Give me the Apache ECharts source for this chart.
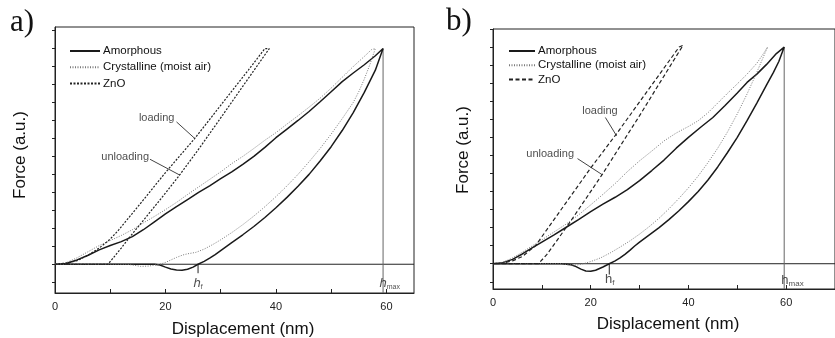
<!DOCTYPE html>
<html>
<head>
<meta charset="utf-8">
<script src="https://cdn.jsdelivr.net/npm/echarts@6/dist/echarts.min.js"></script>
<style>
  html, body { margin: 0; padding: 0; background: #fff; }
  #main { width: 835px; height: 338px; }
</style>
</head>
<body>
<div id="main"></div>
<script>
// ---- panel a) ----
const amorphLoadA = [[0,0],[2,0.02],[4,0.12],[6,0.25],[8,0.4],[10,0.52],[12,0.63],[14,0.77],[16,0.96],[18,1.18],[20,1.4],[22,1.6],[24,1.8],[26,2.0],[28,2.18],[30,2.38],[32,2.57],[34,2.78],[36,3.0],[38,3.25],[40,3.52],[42,3.76],[44,4.0],[46,4.25],[48,4.52],[50,4.8],[52,5.08],[54,5.32],[56,5.55],[58,5.8],[59.4,6.0]];
const amorphUnloadA = [[59.4,6.0],[58,5.4],[56,4.78],[54,4.22],[52,3.72],[50,3.27],[48,2.87],[46,2.5],[44,2.17],[42,1.86],[40,1.57],[38,1.3],[36,1.05],[34,0.82],[32,0.6],[31,0.49],[30,0.38],[29,0.27],[28,0.17],[27,0.08],[25.9,0],[25,-0.08],[24,-0.14],[23,-0.17],[22,-0.16],[21,-0.13],[20,-0.08],[19,-0.02],[18,0],[0,0]];
const crystLoadA = [[0,0],[2,0.04],[4,0.18],[6,0.35],[8,0.52],[10,0.66],[12,0.8],[14,0.96],[16,1.15],[18,1.33],[20,1.52],[22,1.72],[24,1.94],[26,2.15],[28,2.36],[30,2.57],[32,2.8],[34,3.0],[36,3.22],[38,3.45],[40,3.66],[42,3.9],[44,4.13],[46,4.37],[48,4.62],[50,4.9],[52,5.2],[54,5.5],[56,5.78],[57.3,5.97],[58,6.0]];
const crystUnloadA = [[58,6.0],[57,5.55],[56,5.15],[55,4.8],[54,4.5],[52,4.05],[50,3.62],[48,3.22],[46,2.85],[44,2.5],[42,2.18],[40,1.88],[38,1.6],[36,1.34],[34,1.1],[32,0.88],[30,0.68],[28.7,0.56],[27,0.42],[25.5,0.33],[24,0.29],[23.2,0.26],[22,0.19],[21,0.12],[20,0.05],[19,0],[17,-0.05],[15.5,-0.06],[14,-0.02],[13,0],[0,0]];
const znoLoadA = [[0,0],[2,0.03],[4,0.1],[6,0.25],[8,0.45],[10,0.7],[11.5,0.95],[15,1.6],[20,2.55],[25.3,3.5],[30,4.42],[35,5.4],[38,6.0]];
const znoUnloadA = [[38.8,6.0],[34,4.95],[30,4.07],[26,3.2],[22.6,2.49],[20,1.98],[16,1.22],[13.6,0.77],[12,0.45],[9.6,0],[0,0]];
const hmaxA = 59.4;
const hfA = 25.9;

// ---- panel b) ----
const amorphLoadB = [[0,0],[2,0.03],[4,0.12],[6,0.27],[8,0.44],[10,0.6],[12.5,0.8],[15,1.01],[17.5,1.22],[20,1.44],[22.5,1.65],[25,1.84],[27.5,2.05],[30,2.3],[32.5,2.58],[35,2.87],[37.5,3.2],[40,3.5],[42.5,3.78],[45,4.05],[47.5,4.38],[50,4.73],[52,5.02],[54,5.25],[56,5.52],[58,5.82],[59.6,6.0]];
const amorphUnloadB = [[59.6,6.0],[58.5,5.6],[57.4,5.3],[56,4.95],[54,4.45],[52,3.96],[50,3.5],[48,3.08],[46,2.68],[44,2.32],[42,2.0],[40,1.72],[38,1.46],[36,1.22],[34,1.0],[32,0.8],[30,0.6],[29,0.49],[28,0.37],[27,0.26],[26,0.16],[25,0.08],[23.8,0],[22.5,-0.09],[21,-0.18],[20,-0.21],[19,-0.2],[18,-0.15],[17,-0.08],[16,-0.03],[14,0],[0,0]];
const crystLoadB = [[0,0],[2,0.04],[4,0.16],[6,0.32],[8,0.49],[10,0.66],[12.5,0.88],[15,1.1],[17.5,1.35],[20,1.63],[22.5,1.92],[25,2.22],[27.5,2.55],[30,2.85],[32.5,3.12],[35,3.4],[37.5,3.62],[40,3.8],[42,3.96],[44,4.18],[46,4.45],[48,4.72],[50,4.98],[52,5.25],[54,5.55],[55.5,5.85],[56.2,6.0]];
const crystUnloadB = [[56.2,6.0],[55,5.62],[54,5.3],[53,5.0],[52,4.7],[50,4.15],[48,3.65],[46,3.2],[44,2.8],[42,2.43],[40,2.1],[38,1.8],[36,1.52],[34,1.26],[32,1.03],[30,0.82],[28,0.63],[26,0.46],[24,0.3],[22,0.16],[20,0.06],[18.5,0],[17,-0.04],[15.5,-0.03],[14,0],[0,0]];
const znoLoadB = [[0,0],[2,0.02],[4,0.08],[6,0.2],[8.7,0.5],[11,0.94],[15,1.7],[20,2.65],[25.4,3.62],[30,4.48],[35,5.42],[38.1,6.0]];
const znoUnloadB = [[38.9,6.05],[34,4.98],[30,4.1],[26,3.25],[22.4,2.48],[19,1.8],[16,1.2],[13.7,0.76],[11,0.25],[9.3,0],[0,0]];
const hmaxB = 59.6;
const hfB = 23.8;

// axis ticks / labels
const xTickLabels = [0, 20, 40, 60];
const xTicks = [0, 10, 20, 30, 40, 50, 60, 70];
const yTicks = [-0.5, 0, 0.5, 1, 1.5, 2, 2.5, 3, 3.5, 4, 4.5, 5, 5.5, 6, 6.5];
const seriesNames = ['Amorphous', 'Crystalline (moist air)', 'ZnO'];

const FONT = '"Liberation Sans", Arial, sans-serif';
const chart = echarts.init(document.getElementById('main'));

const styles = {
  Amorphous: { color: '#1a1a1a', width: 1.5, type: 'solid' },
  'Crystalline (moist air)': { color: '#7a7a7a', width: 1, type: [1, 1.5] },
  ZnO: { color: '#222', width: 1.2, type: [3, 2] }
};

function curve(name, data, idx, dash) {
  const st = Object.assign({}, styles[name]);
  if (dash) st.type = dash;
  return {
    name: name, type: 'line', xAxisIndex: idx, yAxisIndex: idx,
    data: data, symbol: 'none', smooth: false, silent: true,
    lineStyle: st, itemStyle: { color: st.color }, z: 3
  };
}

function thin(data, idx, color) {
  return {
    type: 'line', xAxisIndex: idx, yAxisIndex: idx, data: data,
    symbol: 'none', silent: true, z: 2,
    lineStyle: { color: color || '#222', width: 1 }
  };
}

function note(text, pos, idx, rich) {
  return {
    type: 'scatter', xAxisIndex: idx, yAxisIndex: idx, data: [pos],
    symbolSize: 0, silent: true, z: 4,
    label: {
      show: true, position: 'inside', formatter: text,
      color: '#222', fontSize: 11, fontFamily: FONT, rich: rich
    }
  };
}

const richA = {
  h: { fontSize: 13, fontStyle: 'italic', fontFamily: FONT, color: '#222', lineHeight: 15 },
  s: { fontSize: 7, fontFamily: FONT, color: '#222', verticalAlign: 'bottom', lineHeight: 8 }
};
const richB = {
  h: { fontSize: 13, fontFamily: FONT, color: '#222', lineHeight: 15 },
  s: { fontSize: 8, fontFamily: FONT, color: '#222', verticalAlign: 'bottom', lineHeight: 9 }
};

function xAxis(idx, max) {
  return {
    gridIndex: idx, type: 'value', min: 0, max: max,
    axisLine: { onZero: false, lineStyle: { color: '#222', width: 1 } },
    axisTick: { inside: true, length: 4, customValues: xTicks, lineStyle: { color: '#222' } },
    axisLabel: { customValues: xTickLabels, fontSize: 11, color: '#222', fontFamily: FONT, margin: 8 },
    splitLine: { show: false }
  };
}
function yAxis(idx, min, max) {
  return {
    gridIndex: idx, type: 'value', min: min, max: max,
    axisLine: { show: true, onZero: false, lineStyle: { color: '#222', width: 1 } },
    axisTick: { show: true, inside: false, length: 3, customValues: yTicks, lineStyle: { color: '#222' } },
    axisLabel: { show: false },
    splitLine: { show: false }
  };
}

function legend(left, itemWidth, gap, znoDash) {
  return {
    left: left, top: 40, orient: 'vertical', itemWidth: itemWidth, itemHeight: 12,
    itemGap: gap, selectedMode: false,
    itemStyle: { opacity: 0 },
    textStyle: { fontSize: 11.5, color: '#111', fontFamily: FONT, padding: [0, 0, 0, -2] },
    data: [
      { name: seriesNames[0] },
      { name: seriesNames[1] },
      { name: seriesNames[2], lineStyle: { type: znoDash } }
    ]
  };
}

const option = {
  animation: false,
  backgroundColor: '#fff',
  grid: [
    { left: 55, top: 27, width: 359, height: 266, show: true, borderColor: '#222', borderWidth: 1 },
    { left: 493, top: 29, width: 350, height: 260, show: true, borderColor: '#222', borderWidth: 1 }
  ],
  xAxis: [xAxis(0, 65), xAxis(1, 70)],
  yAxis: [yAxis(0, -0.8, 6.6), yAxis(1, -0.7, 6.5)],
  legend: [legend(64, 30, 4.3, [2, 1.5]), legend(503, 26, 2.3, [4, 2.5])],
  series: [
    thin([[0, 0], [65, 0]], 0),
    thin([[hmaxA, 6], [hmaxA, -0.8]], 0, '#666'),
    thin([[hfA, 0], [hfA, -0.25]], 0),
    curve('Amorphous', amorphLoadA.concat(amorphUnloadA), 0),
    curve('Crystalline (moist air)', crystLoadA.concat(crystUnloadA), 0),
    curve('ZnO', znoLoadA.concat(znoUnloadA), 0, [2, 1.5]),
    thin([[22.0, 3.96], [25.3, 3.5]], 0, '#444'),
    thin([[17.2, 2.92], [22.6, 2.48]], 0, '#444'),
    note('loading', [18.4, 4.06], 0),
    note('unloading', [12.7, 2.99], 0),
    note('{h|h}{s|f}', [25.9, -0.53], 0, richA),
    note('{h|h}{s|max}', [60.6, -0.53], 0, richA),

    thin([[0, 0], [70, 0]], 1),
    thin([[hmaxB, 6], [hmaxB, -0.7]], 1, '#666'),
    thin([[hfB, 0], [hfB, -0.3]], 1),
    curve('Amorphous', amorphLoadB.concat(amorphUnloadB), 1),
    curve('Crystalline (moist air)', crystLoadB.concat(crystUnloadB), 1),
    curve('ZnO', znoLoadB.concat(znoUnloadB), 1, [4, 2.5]),
    thin([[23.0, 4.05], [25.3, 3.54]], 1, '#444'),
    thin([[17.3, 2.91], [22.3, 2.47]], 1, '#444'),
    note('loading', [21.9, 4.23], 1),
    note('unloading', [11.7, 3.03], 1),
    note('{h|h}{s|f}', [23.9, -0.43], 1, richB),
    note('{h|h}{s|max}', [61.3, -0.45], 1, richB)
  ],
  graphic: [
    { type: 'text', x: 22, y: 23, style: { text: 'a)', font: '31px "Liberation Serif", "Times New Roman", serif', fill: '#111', align: 'center', verticalAlign: 'middle' } },
    { type: 'text', x: 459, y: 22, style: { text: 'b)', font: '31px "Liberation Serif", "Times New Roman", serif', fill: '#111', align: 'center', verticalAlign: 'middle' } },
    { type: 'text', x: 20, y: 155, rotation: Math.PI / 2, style: { text: 'Force (a.u.)', font: '17px ' + FONT, fill: '#111', align: 'center', verticalAlign: 'middle' } },
    { type: 'text', x: 463, y: 150, rotation: Math.PI / 2, style: { text: 'Force (a.u.)', font: '17px ' + FONT, fill: '#111', align: 'center', verticalAlign: 'middle' } },
    { type: 'text', x: 243, y: 329, style: { text: 'Displacement (nm)', font: '17px ' + FONT, fill: '#111', align: 'center', verticalAlign: 'middle' } },
    { type: 'text', x: 668, y: 324, style: { text: 'Displacement (nm)', font: '17px ' + FONT, fill: '#111', align: 'center', verticalAlign: 'middle' } }
  ]
};

chart.setOption(option);
</script>
</body>
</html>
